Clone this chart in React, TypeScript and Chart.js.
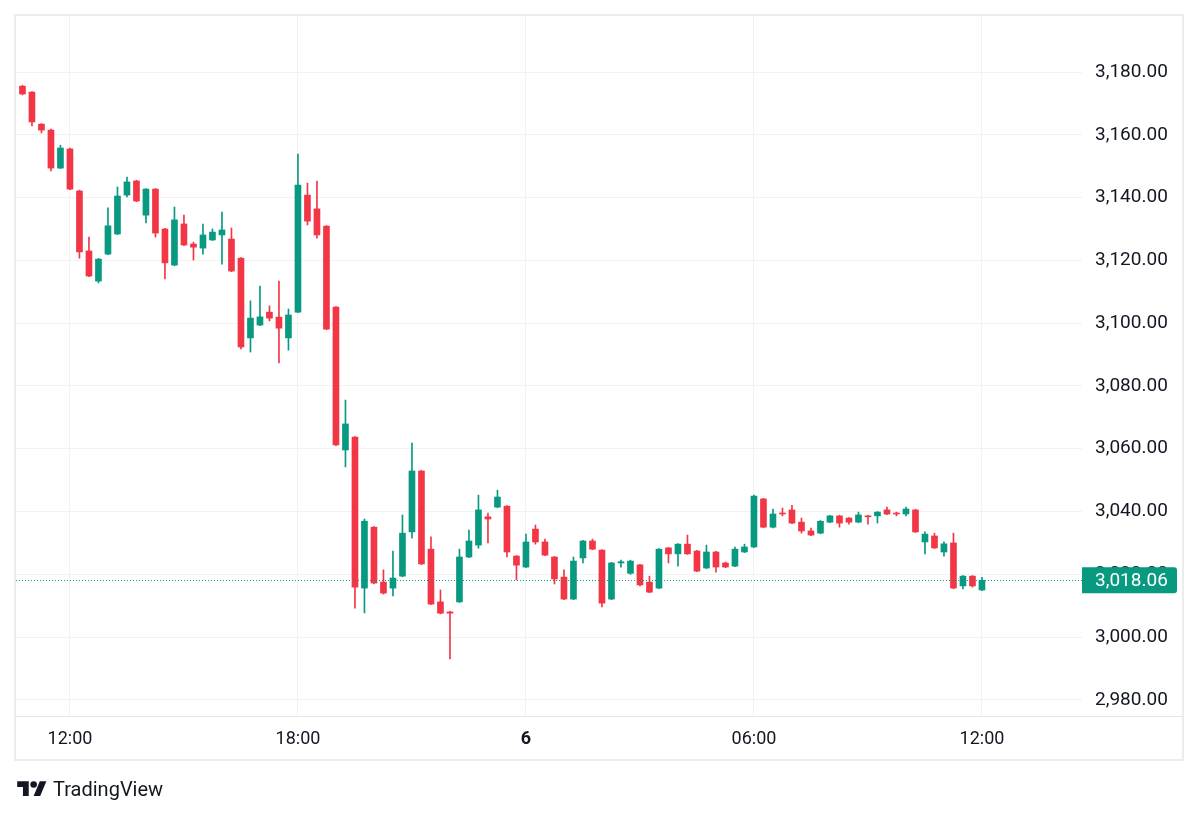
import React, { useEffect, useRef } from "react";
import { Chart, registerables } from "chart.js";

Chart.register(...registerables);

// 15-minute candles, 10:45 (day 5) .. 12:00 (day 6)
const opens = [
  3175.5, 3173.6, 3163.4, 3161.5, 3149.4, 3155.5, 3142.1, 3123.0, 3113.4, 3122.0,
  3128.4, 3140.8, 3145.3, 3134.4, 3142.7, 3130.0, 3118.5, 3131.6, 3125.2, 3123.9,
  3126.5, 3128.1, 3126.8, 3120.7, 3095.3, 3099.4, 3103.5, 3101.9, 3095.3, 3103.5,
  3140.8, 3136.4, 3130.9, 3105.1, 3059.6, 3063.7, 3015.6, 3035.0, 3017.5, 3015.6,
  3019.4, 3033.5, 3052.9, 3028.0, 3011.2, 3008.0, 3011.2, 3025.5, 3029.3, 3038.3,
  3041.4, 3041.7, 3025.8, 3022.3, 3034.4, 3030.3, 3025.5, 3019.1, 3012.1, 3025.2,
  3030.6, 3027.7, 3012.1, 3023.6, 3020.3, 3023.0, 3017.5, 3015.6, 3028.4, 3026.5,
  3029.6, 3027.4, 3022.0, 3027.1, 3023.6, 3022.6, 3027.1, 3028.7, 3044.0, 3035.0,
  3039.5, 3040.5, 3036.6, 3033.8, 3033.1, 3036.6, 3038.6, 3037.9, 3036.6, 3038.6,
  3038.6, 3040.5, 3039.3, 3039.2, 3040.5, 3030.3, 3032.2, 3027.1, 3030.0, 3016.3,
  3019.4, 3015.0,
];
const highs = [
  3175.8, 3173.8, 3163.6, 3161.8, 3156.7, 3155.8, 3142.4, 3127.4, 3120.6, 3136.7,
  3143.4, 3146.5, 3145.5, 3142.9, 3142.9, 3130.2, 3137.0, 3134.4, 3125.8, 3131.6,
  3130.0, 3135.4, 3130.3, 3120.9, 3107.1, 3111.8, 3105.5, 3113.4, 3104.5, 3153.9,
  3144.6, 3145.3, 3131.1, 3105.3, 3075.5, 3063.9, 3037.6, 3035.2, 3021.4, 3027.4,
  3038.9, 3061.8, 3053.1, 3031.9, 3015.0, 3008.2, 3028.0, 3034.1, 3045.2, 3039.5,
  3046.8, 3041.9, 3026.0, 3032.8, 3035.7, 3031.2, 3025.7, 3021.4, 3025.5, 3030.8,
  3031.2, 3027.9, 3023.8, 3024.5, 3024.5, 3023.2, 3019.4, 3028.2, 3028.6, 3029.8,
  3032.5, 3027.6, 3029.3, 3027.3, 3023.9, 3028.7, 3029.6, 3045.2, 3044.2, 3040.8,
  3041.1, 3042.0, 3037.9, 3034.7, 3037.1, 3038.8, 3038.8, 3038.1, 3039.8, 3038.8,
  3040.0, 3041.4, 3039.8, 3041.4, 3040.7, 3033.5, 3033.1, 3030.3, 3033.1, 3019.6,
  3019.6, 3019.0,
];
const lows = [
  3172.7, 3162.8, 3160.6, 3148.5, 3149.2, 3142.5, 3120.7, 3114.8, 3112.8, 3121.8,
  3128.2, 3140.2, 3138.7, 3131.9, 3127.4, 3114.1, 3118.3, 3124.7, 3120.1, 3122.0,
  3126.3, 3118.8, 3116.4, 3091.8, 3090.8, 3099.2, 3100.7, 3087.3, 3091.4, 3103.3,
  3131.3, 3127.1, 3097.9, 3061.0, 3054.2, 3009.2, 3007.7, 3016.9, 3013.7, 3013.1,
  3019.2, 3031.5, 3023.1, 3010.3, 3007.4, 2993.0, 3011.0, 3025.3, 3028.3, 3030.0,
  3041.2, 3025.5, 3018.2, 3022.1, 3029.6, 3025.9, 3016.9, 3011.9, 3011.9, 3023.6,
  3027.8, 3009.6, 3011.9, 3022.3, 3020.0, 3016.3, 3014.1, 3015.4, 3023.6, 3022.6,
  3026.3, 3020.8, 3021.8, 3020.7, 3022.1, 3022.4, 3026.9, 3028.5, 3034.8, 3034.8,
  3038.6, 3036.1, 3033.1, 3032.3, 3032.9, 3036.4, 3035.0, 3036.0, 3036.4, 3036.0,
  3036.3, 3039.0, 3038.6, 3038.6, 3033.3, 3026.5, 3028.2, 3025.8, 3015.4, 3015.3,
  3015.9, 3014.8,
];
const closes = [
  3173.0, 3164.1, 3161.5, 3149.4, 3155.8, 3142.7, 3122.7, 3115.0, 3120.4, 3131.0,
  3140.5, 3145.0, 3138.9, 3142.7, 3128.7, 3119.2, 3132.9, 3124.9, 3124.2, 3128.1,
  3129.0, 3129.7, 3116.6, 3092.4, 3101.6, 3102.0, 3101.6, 3098.4, 3102.6, 3144.0,
  3132.5, 3128.1, 3098.1, 3061.2, 3067.9, 3015.9, 3036.9, 3017.2, 3014.0, 3018.8,
  3033.1, 3052.9, 3023.3, 3010.5, 3007.6, 3007.6, 3025.5, 3030.6, 3040.5, 3037.6,
  3044.6, 3027.1, 3022.9, 3030.3, 3030.3, 3026.1, 3018.5, 3012.1, 3024.2, 3030.6,
  3028.0, 3010.8, 3023.6, 3024.0, 3024.2, 3016.6, 3014.3, 3028.0, 3026.5, 3029.6,
  3026.5, 3021.0, 3027.1, 3022.3, 3022.3, 3028.0, 3028.7, 3044.9, 3035.0, 3039.2,
  3039.2, 3036.3, 3033.8, 3032.5, 3036.9, 3038.6, 3036.3, 3036.6, 3038.9, 3038.3,
  3039.8, 3039.2, 3039.2, 3040.8, 3033.5, 3032.8, 3028.4, 3029.7, 3015.6, 3019.4,
  3016.3, 3018.06,
];

const timeTickIndex = [5, 29, 53, 77, 101];
const timeTickLabels = ["12:00", "18:00", "6", "06:00", "12:00"];
const dayTickIndex = 53;
const priceTicks = [2980, 3000, 3020, 3040, 3060, 3080, 3100, 3120, 3140, 3160, 3180];
const lastPrice = 3018.06;

const UP = "#089981";
const DOWN = "#F23645";
const TEXT = "#131722";
const FONT = "Roboto, 'Noto Sans', sans-serif";

const fmt = (v: number) =>
  v.toLocaleString("en-US", { minimumFractionDigits: 2, maximumFractionDigits: 2 });

export default function App() {
  const ref = useRef<HTMLCanvasElement | null>(null);

  useEffect(() => {
    if (!ref.current) return;
    const colors = opens.map((o, i) => (closes[i] >= o ? UP : DOWN));

    const framePlugin = {
      id: "frame",
      beforeDraw(chart: any) {
        const { ctx, chartArea } = chart;
        const x = chart.scales.x;
        const y = chart.scales.y;
        ctx.save();
        ctx.fillStyle = "#ffffff";
        ctx.fillRect(0, 0, chart.width, chart.height);
        ctx.restore();
        ctx.save();
        ctx.strokeStyle = "#ececec";
        ctx.lineWidth = 2;
        ctx.strokeRect(chartArea.left - 1, chartArea.top - 1, y.right - chartArea.left, x.bottom - chartArea.top + 1);
        ctx.lineWidth = 1;
        ctx.strokeStyle = "#e6e6e6";
        ctx.beginPath();
        ctx.moveTo(chartArea.left, chartArea.bottom + 0.5);
        ctx.lineTo(y.right - 2, chartArea.bottom + 0.5);
        ctx.stroke();
        ctx.restore();
      },
      afterDatasetsDraw(chart: any) {
        const { ctx, chartArea } = chart;
        const yy = Math.round(chart.scales.y.getPixelForValue(lastPrice)) + 0.5;
        ctx.save();
        ctx.strokeStyle = UP;
        ctx.lineWidth = 1;
        ctx.setLineDash([1, 2]);
        ctx.beginPath();
        ctx.moveTo(chartArea.left, yy);
        ctx.lineTo(chartArea.right, yy);
        ctx.stroke();
        ctx.restore();
      },
      afterDraw(chart: any) {
        const { ctx, chartArea } = chart;
        const y = chart.scales.y;
        const py = y.getPixelForValue(lastPrice);
        const left = chartArea.right;
        const w = 95;
        const h = 26;
        ctx.save();
        ctx.fillStyle = UP;
        ctx.beginPath();
        (ctx as any).roundRect(left, py - h / 2, w, h, [0, 3, 3, 0]);
        ctx.fill();
        ctx.fillStyle = "#ffffff";
        ctx.font = `19px ${FONT}`;
        ctx.textAlign = "left";
        ctx.textBaseline = "middle";
        ctx.fillText(fmt(lastPrice), left + 13, py + 1);
        ctx.restore();
      },
    };

    const chart = new Chart(ref.current, {
      type: "bar",
      data: {
        datasets: [
          {
            label: "body",
            data: opens.map((o, i) => ({ x: i, y: [o, closes[i]] })) as any,
            backgroundColor: colors,
            barThickness: 6,
            minBarLength: 1,
            grouped: false,
            borderWidth: 0,
          } as any,
          {
            label: "wick",
            data: lows.map((l, i) => ({ x: i, y: [l, highs[i]] })) as any,
            backgroundColor: colors,
            barThickness: 1,
            grouped: false,
            borderWidth: 0,
          } as any,
        ],
      },
      options: {
        responsive: false,
        animation: false,
        layout: { padding: { left: 16, top: 16, right: 16, bottom: 57 } },
        plugins: { legend: { display: false }, tooltip: { enabled: false } },
        scales: {
          x: {
            type: "linear",
            min: -0.68,
            max: 111.53,
            offset: false,
            position: "bottom",
            afterBuildTicks: (s: any) => {
              s.ticks = timeTickIndex.map((v) => ({ value: v }));
            },
            afterFit: (s: any) => {
              s.height = 44;
              s.paddingLeft = 0;
              s.paddingRight = 0;
              s.paddingTop = 0;
              s.paddingBottom = 0;
            },
            grid: { color: "#f2f2f2", drawTicks: false, offset: false },
            border: { display: false },
            ticks: {
              autoSkip: false,
              maxRotation: 0,
              padding: 13,
              color: TEXT,
              font: (c: any) => ({
                family: FONT,
                size: 18,
                weight: c.tick && c.tick.value === dayTickIndex ? "bold" : "normal",
              }),
              callback: (v: any) => {
                const k = timeTickIndex.indexOf(Number(v));
                return k >= 0 ? timeTickLabels[k] : "";
              },
            },
          } as any,
          y: {
            type: "linear",
            position: "right",
            min: 2974.85,
            max: 3197.85,
            afterBuildTicks: (s: any) => {
              s.ticks = priceTicks.map((v) => ({ value: v }));
            },
            afterFit: (s: any) => {
              s.width = 102;
              s.paddingLeft = 0;
              s.paddingRight = 0;
              s.paddingTop = 0;
              s.paddingBottom = 0;
            },
            grid: { color: "#f2f2f2", drawTicks: false },
            border: { display: false },
            ticks: {
              crossAlign: "near",
              padding: 13,
              color: TEXT,
              font: { family: FONT, size: 19 },
              callback: (v: any) => fmt(Number(v)),
            },
          } as any,
        },
      },
      plugins: [framePlugin],
    });
    return () => chart.destroy();
  }, []);

  return (
    <div style={{ position: "absolute", left: 0, top: 0, width: 1200, height: 817, background: "#fff" }}>
      <canvas ref={ref} width={1200} height={817} style={{ display: "block" }} />
      <div
        style={{
          position: "absolute",
          left: 17,
          top: 777,
          display: "flex",
          alignItems: "center",
          gap: 6,
          fontFamily: FONT,
          fontSize: 20,
          color: TEXT,
        }}
      >
        <svg width="30" height="23" viewBox="0 0 36 28">
          <path d="M14 22H7V11H0V4h14v18z" fill={TEXT} />
          <path d="M28 22h-8l7.5-18h8L28 22z" fill={TEXT} />
          <circle cx="20" cy="8" r="4" fill={TEXT} />
        </svg>
        <span>TradingView</span>
      </div>
    </div>
  );
}
